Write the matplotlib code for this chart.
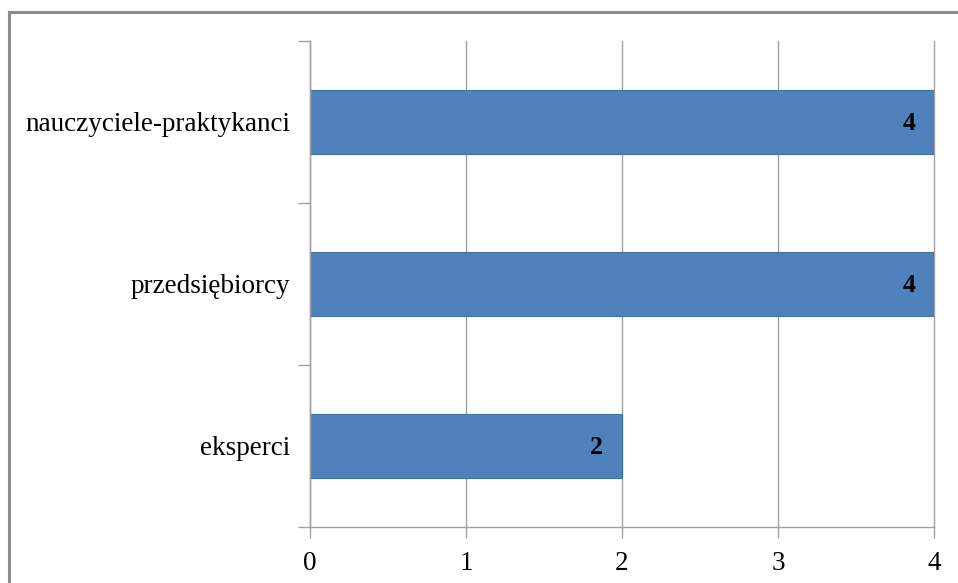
import matplotlib
matplotlib.use('Agg')
import matplotlib.pyplot as plt
from matplotlib.lines import Line2D

kategorie = ['eksperci', 'przedsiębiorcy', 'nauczyciele-praktykanci']
liczba = [2, 4, 4]

plt.rcParams['font.family'] = ['Liberation Serif', 'DejaVu Serif']

fig = plt.figure(figsize=(9.58, 5.83), dpi=100)
ax = fig.add_axes([0.3236, 0.0961, 0.6514, 0.8336])

y = range(len(kategorie))
ax.barh(y, liczba, height=0.4, color='#4F81BD', edgecolor='#41719C', linewidth=0.8, zorder=3)

# wartosci na koncu slupkow
for i, v in enumerate(liczba):
    ax.annotate(str(v), (v, i), xytext=(-19, -2), textcoords='offset pixels',
                ha='right', va='center', fontsize=18.5, fontweight='bold', zorder=4)

ax.set_xlim(0, 4)
ax.set_ylim(-0.5, len(kategorie) - 0.5)
ax.set_xticks([0, 1, 2, 3, 4])
ax.set_yticks(y)
ax.set_yticklabels(kategorie, fontsize=19.5)
ax.set_yticks([-0.5, 0.5, 1.5, 2.5], minor=True)
ax.tick_params(axis='y', which='major', length=0, pad=14)
ax.tick_params(axis='y', which='minor', length=9, color='#A0A0A0', width=1)
ax.tick_params(axis='x', length=8, color='#A0A0A0', width=1, labelsize=19.5, pad=9)

ax.grid(axis='x', color='#A0A0A0', linewidth=1, zorder=0)
for gl in ax.get_xgridlines():
    gl.set_clip_on(False)
for s in ['top', 'right']:
    ax.spines[s].set_visible(False)
for s in ['left', 'bottom']:
    ax.spines[s].set_color('#A0A0A0')
    ax.spines[s].set_linewidth(1)
    ax.spines[s].set_zorder(5)

# ramka wykresu (lewa i gorna krawedz)
fig.add_artist(Line2D([0.0099, 0.0099], [0, 0.9794], transform=fig.transFigure, color='#8C8C8C', linewidth=2.2))
fig.add_artist(Line2D([0.0099, 1.0], [0.9794, 0.9794], transform=fig.transFigure, color='#8C8C8C', linewidth=2.2))

plt.savefig('out.png', dpi=100)
